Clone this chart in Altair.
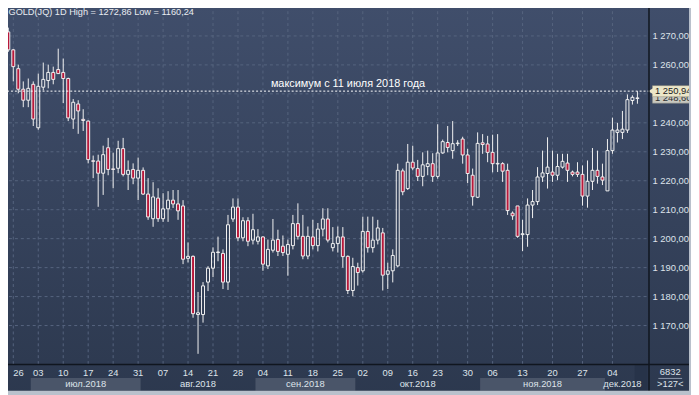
import altair as alt
import pandas as pd

# ---- candle data (daily, index based) ----
opens = [1271.4, 1265.2, 1258.7, 1251.6, 1247.8, 1253.3, 1238.3, 1252.3, 1254.6, 1257.4,
         1258.4, 1257.4, 1255.3, 1241.3, 1246.5, 1241.2, 1240.6, 1226.9, 1226.8, 1222.6,
         1231.4, 1224.1, 1224.3, 1231.1, 1222.2, 1223.9, 1220.9, 1223.6, 1215.4, 1206.9,
         1214.0, 1206.9, 1210.3, 1213.3, 1212.0, 1211.3, 1193.2, 1193.9, 1173.8, 1173.8,
         1185.0, 1189.8, 1195.2, 1194.9, 1185.0, 1206.8, 1210.9, 1200.3, 1206.2, 1199.5,
         1199.1, 1200.6, 1190.6, 1196.0, 1199.7, 1197.4, 1194.6, 1197.6, 1205.2, 1200.8,
         1194.0, 1200.6, 1197.6, 1203.3, 1206.8, 1196.9, 1198.3, 1200.6, 1193.9, 1182.1,
         1190.0, 1188.9, 1202.5, 1196.9, 1199.5, 1202.0, 1187.7, 1188.9, 1190.6, 1223.4,
         1217.3, 1226.4, 1224.2, 1221.5, 1224.9, 1225.9, 1221.5, 1229.6, 1233.2, 1230.4,
         1232.8, 1234.4, 1228.9, 1221.9, 1214.3, 1233.1, 1232.7, 1229.8, 1225.8, 1225.9,
         1223.6, 1208.8, 1211.3, 1201.4, 1201.4, 1211.6, 1212.8, 1221.3, 1222.5, 1223.0,
         1221.9, 1224.7, 1226.1, 1223.0, 1223.0, 1222.2, 1214.7, 1219.8, 1223.6, 1221.3,
         1216.5, 1230.4, 1236.7, 1236.7, 1237.5, 1247.7, 1248.4]
highs = [1272.86, 1265.5, 1260.1, 1254.3, 1255.3, 1254.3, 1257.0, 1260.8, 1260.1, 1259.4,
         1265.6, 1262.2, 1255.6, 1248.2, 1247.8, 1244.7, 1240.8, 1228.7, 1229.0, 1232.1,
         1234.8, 1229.7, 1233.8, 1234.8, 1227.0, 1226.0, 1228.0, 1224.6, 1220.9, 1219.5,
         1217.4, 1215.7, 1216.4, 1216.8, 1216.8, 1213.3, 1198.7, 1194.2, 1181.6, 1185.0,
         1190.5, 1197.0, 1200.7, 1196.3, 1208.2, 1213.9, 1213.9, 1207.4, 1207.4, 1208.6,
         1203.3, 1200.8, 1199.7, 1206.8, 1203.1, 1201.1, 1199.7, 1208.2, 1212.2, 1208.2,
         1204.2, 1206.5, 1205.4, 1210.5, 1210.5, 1204.0, 1204.2, 1204.0, 1194.2, 1193.4,
         1191.7, 1207.6, 1207.6, 1207.6, 1206.5, 1203.7, 1191.7, 1196.3, 1225.9, 1224.2,
         1232.7, 1232.1, 1227.2, 1229.8, 1230.4, 1229.5, 1239.5, 1234.2, 1238.9, 1240.6,
         1234.0, 1235.2, 1231.0, 1224.2, 1236.7, 1236.1, 1235.5, 1235.9, 1236.1, 1226.4,
         1225.9, 1209.4, 1211.3, 1206.5, 1213.9, 1216.8, 1224.7, 1230.4, 1235.0, 1230.4,
         1229.3, 1229.3, 1229.3, 1223.5, 1226.4, 1225.3, 1227.0, 1231.3, 1230.4, 1225.9,
         1234.4, 1241.8, 1240.0, 1244.1, 1249.8, 1249.5, 1250.94]
lows = [1264.5, 1254.3, 1250.2, 1245.4, 1245.4, 1238.9, 1237.6, 1251.2, 1251.9, 1253.3,
        1257.0, 1246.8, 1240.6, 1237.9, 1236.2, 1237.2, 1226.0, 1220.9, 1211.0, 1215.1,
        1221.9, 1217.4, 1222.6, 1221.5, 1216.8, 1218.8, 1213.3, 1215.1, 1206.5, 1204.1,
        1205.8, 1205.8, 1205.8, 1210.6, 1206.5, 1191.2, 1191.8, 1172.7, 1160.24, 1171.0,
        1181.9, 1186.7, 1192.2, 1182.6, 1182.3, 1205.8, 1199.1, 1199.1, 1197.4, 1198.0,
        1198.0, 1188.9, 1189.5, 1195.2, 1194.0, 1194.0, 1187.2, 1196.3, 1199.7, 1192.9,
        1192.9, 1196.3, 1195.6, 1200.8, 1198.7, 1195.6, 1195.2, 1190.0, 1180.9, 1180.1,
        1183.8, 1188.3, 1195.2, 1195.2, 1198.0, 1182.1, 1182.6, 1184.9, 1190.1, 1215.0,
        1216.8, 1223.6, 1219.9, 1218.1, 1221.9, 1219.6, 1220.7, 1229.3, 1229.8, 1227.6,
        1232.0, 1225.9, 1219.2, 1211.4, 1214.0, 1229.3, 1226.4, 1222.9, 1223.0, 1219.6,
        1208.2, 1206.5, 1200.3, 1195.7, 1197.2, 1207.1, 1211.6, 1219.6, 1217.3, 1219.6,
        1220.2, 1224.2, 1219.6, 1221.5, 1221.3, 1211.4, 1210.7, 1216.8, 1219.0, 1218.5,
        1216.5, 1229.3, 1233.2, 1234.4, 1236.5, 1246.3, 1246.6]
closes = [1265.2, 1259.4, 1251.6, 1247.8, 1251.9, 1241.3, 1252.6, 1255.0, 1257.4, 1255.0,
          1257.0, 1255.3, 1241.7, 1247.1, 1244.1, 1240.8, 1227.3, 1226.7, 1222.6, 1229.0,
          1223.9, 1223.9, 1231.1, 1222.2, 1223.6, 1220.9, 1223.6, 1215.4, 1207.5, 1214.4,
          1206.9, 1210.3, 1213.3, 1212.0, 1209.6, 1192.9, 1193.9, 1174.1, 1174.4, 1183.7,
          1189.8, 1195.3, 1195.4, 1185.0, 1204.8, 1210.9, 1200.3, 1206.2, 1199.1, 1203.1,
          1200.6, 1191.2, 1196.3, 1199.5, 1195.6, 1195.2, 1198.0, 1205.2, 1200.8, 1194.0,
          1200.8, 1197.6, 1203.3, 1206.8, 1199.5, 1198.3, 1200.6, 1193.8, 1182.1, 1190.4,
          1188.3, 1202.5, 1196.9, 1199.5, 1203.7, 1187.4, 1188.9, 1194.2, 1223.6, 1216.2,
          1226.4, 1224.4, 1221.5, 1225.5, 1225.9, 1221.5, 1229.6, 1233.5, 1231.5, 1232.8,
          1233.0, 1228.9, 1222.5, 1214.5, 1232.9, 1232.5, 1229.8, 1225.9, 1226.0, 1223.3,
          1209.7, 1207.9, 1200.8, 1201.7, 1211.6, 1212.8, 1221.3, 1222.7, 1224.7, 1221.9,
          1224.9, 1226.7, 1223.6, 1222.2, 1222.2, 1214.7, 1219.8, 1223.6, 1221.5, 1220.2,
          1230.4, 1237.5, 1237.5, 1237.8, 1248.0, 1248.8, 1248.6]

# ---- axis labels ----
tick_idx = [1, 6, 11, 16, 21, 26, 31, 36, 41, 46, 51, 56, 61, 66, 71, 76, 81, 86,
            92, 97, 103, 109, 115, 121]
tick_lbl = ["26", "03", "10", "17", "24", "31", "07", "14", "21", "28", "04", "11",
            "18", "25", "02", "09", "16", "23", "30", "06", "13", "20", "27", "04"]
month_lbl = ["июл.2018", "авг.2018", "сен.2018", "окт.2018", "ноя.2018", "дек.2018"]
month_start = [4.5, 26.5, 49.5, 69.5, 94.5, 119.5]
month_end = [26.5, 49.5, 69.5, 94.5, 119.5, 126.5]
month_shaded = [True, False, True, False, True, False]
y_ticks = [1170, 1180, 1190, 1200, 1210, 1220, 1230, 1240, 1250, 1260, 1270]
y_hidden_label = 1250  # covered by the price tag in the original

title_text = "GOLD(JQ) 1D High = 1272,86 Low = 1160,24"
note_text = "максимум с 11 июля 2018 года"
max_level = [1250.94]
last_close = [1248.6]
tag_texts = ["1 250,94", "1 248,60"]
box_texts = ["6832", ">127<"]

# ---- styling ----
FONT = "Liberation Sans"
TXT = "#dde3ea"
GRID = "#56647e"
RED = "#b8193b"
W, H = 653, 363


def ru_fmt(v):
    return f"{v:,.2f}".replace(",", " ").replace(".", ",")


n = len(opens)
df = pd.DataFrame({"i": list(range(n)), "o": opens, "h": highs, "l": lows, "c": closes})
df["top"] = df[["o", "c"]].max(axis=1)
df["bot"] = df[["o", "c"]].min(axis=1)
df["up"] = df["c"] >= df["o"]

xs = alt.Scale(domain=[-0.06, 127.23], nice=False, zero=False)
ys = alt.Scale(domain=[1156.69, 1280.58], nice=False, zero=False)

one = pd.DataFrame({"k": [0]})

grad = alt.LinearGradient(
    gradient="linear",
    stops=[alt.GradientStop(offset=0, color="#404e6b"),
           alt.GradientStop(offset=1, color="#2c384e")],
    x1=0, x2=0, y1=0, y2=1)

bg = alt.Chart(one).mark_rect(fill=grad).encode(
    x=alt.value(0), x2=alt.value(700), y=alt.value(0), y2=alt.value(400))

ydf = pd.DataFrame({"v": y_ticks})
ydf["t"] = [ru_fmt(v) for v in y_ticks]
ygrid = alt.Chart(ydf).mark_rule(
    color=GRID, strokeDash=[3, 3], strokeWidth=1).encode(
    y=alt.Y("v:Q", scale=ys, axis=None), x=alt.value(0), x2=alt.value(W))
ylab = alt.Chart(ydf[ydf["v"] != y_hidden_label]).mark_text(
    font=FONT, fontSize=9.5, color=TXT, align="left", baseline="middle").encode(
    y=alt.Y("v:Q", scale=ys, axis=None), x=alt.value(657), text="t:N")

tdf = pd.DataFrame({"i": tick_idx, "lbl": tick_lbl})
xgrid = alt.Chart(tdf).mark_rule(
    color=GRID, strokeDash=[3, 3], strokeWidth=1).encode(
    x=alt.X("i:Q", scale=xs, axis=None), y=alt.value(0), y2=alt.value(H))
xlab_first = alt.Chart(tdf.iloc[:1]).mark_text(
    font=FONT, fontSize=9.5, color=TXT, align="left", baseline="middle").encode(
    x=alt.X("i:Q", scale=xs, axis=None), y=alt.value(372), text="lbl:N")
xlab = alt.Chart(tdf.iloc[1:]).mark_text(
    font=FONT, fontSize=9.5, color=TXT, align="center", baseline="middle").encode(
    x=alt.X("i:Q", scale=xs, axis=None), y=alt.value(372), text="lbl:N")

mdf = pd.DataFrame({"lbl": month_lbl, "s": month_start, "e": month_end, "sh": month_shaded})
mdf["m"] = (mdf["s"] + mdf["e"]) / 2
mband = alt.Chart(mdf[mdf["sh"]]).mark_rect(fill="#4a5569").encode(
    x=alt.X("s:Q", scale=xs, axis=None), x2="e:Q",
    y=alt.value(377), y2=alt.value(390))
mtext = alt.Chart(mdf).mark_text(font=FONT, fontSize=9.5, color=TXT, baseline="middle").encode(
    x=alt.X("m:Q", scale=xs, axis=None), y=alt.value(383), text="lbl:N")

scroll = alt.Chart(one).mark_rect(fill="#273349").encode(
    x=alt.value(639), x2=alt.value(652), y=alt.value(364), y2=alt.value(390))

wick_up = alt.Chart(df).mark_rule(color="#f2f2f2", strokeWidth=1).encode(
    x=alt.X("i:Q", scale=xs, axis=None),
    y=alt.Y("h:Q", scale=ys, axis=None), y2="top:Q")
wick_dn = alt.Chart(df).mark_rule(color="#f2f2f2", strokeWidth=1).encode(
    x=alt.X("i:Q", scale=xs, axis=None),
    y=alt.Y("bot:Q", scale=ys, axis=None), y2="l:Q")

body_up = alt.Chart(df[df["up"]]).mark_bar(
    size=3, fill="#000000", fillOpacity=0, stroke="#f2f2f2", strokeWidth=1).encode(
    x=alt.X("i:Q", scale=xs, axis=None),
    y=alt.Y("o:Q", scale=ys, axis=None), y2="c:Q")
body_dn = alt.Chart(df[~df["up"]]).mark_bar(
    size=3, fill=RED, stroke="#f2f2f2", strokeWidth=1).encode(
    x=alt.X("i:Q", scale=xs, axis=None),
    y=alt.Y("o:Q", scale=ys, axis=None), y2="c:Q")

lvl = pd.DataFrame({"v": max_level, "lc": last_close, "t1": [tag_texts[0]], "t2": [tag_texts[1]]})
dash = alt.Chart(lvl).mark_rule(color="#ffffff", strokeDash=[2, 2], strokeWidth=1).encode(
    y=alt.Y("v:Q", scale=ys, axis=None), x=alt.value(0), x2=alt.value(655))
note = alt.Chart(lvl).mark_text(font=FONT, fontSize=11, color="#ffffff",
                                baseline="alphabetic", dy=-4).encode(
    y=alt.Y("v:Q", scale=ys, axis=None), x=alt.value(349), text=alt.value(note_text))

# price tags on the right axis
tag2 = alt.Chart(lvl).transform_calculate(a="datum.lc + 1.8", b="datum.lc - 1.8").mark_rect(
    fill="#c9c9c0", stroke="#8a8a84", strokeWidth=0.5).encode(
    y=alt.Y("a:Q", scale=ys, axis=None), y2="b:Q", x=alt.value(657), x2=alt.value(696))
tag2t = alt.Chart(lvl).mark_text(font=FONT, fontSize=9.5, color="#303030", align="left",
                                 baseline="middle").encode(
    y=alt.Y("lc:Q", scale=ys, axis=None), x=alt.value(659.5), text="t2:N")
tag1 = alt.Chart(lvl).transform_calculate(a="datum.v + 1.9", b="datum.v - 1.9").mark_rect(
    fill="#ece6c8", stroke="#9a9480", strokeWidth=0.5).encode(
    y=alt.Y("a:Q", scale=ys, axis=None), y2="b:Q", x=alt.value(657), x2=alt.value(696))
tag1a = alt.Chart(lvl).mark_point(shape="triangle-left", filled=True, fill="#ece6c8",
                                  opacity=1, size=45, strokeWidth=0).encode(
    y=alt.Y("v:Q", scale=ys, axis=None), x=alt.value(655.5))
tag1t = alt.Chart(lvl).mark_text(font=FONT, fontSize=9.5, color="#202020", align="left",
                                 baseline="middle").encode(
    y=alt.Y("v:Q", scale=ys, axis=None), x=alt.value(659.5), text="t1:N")

# frame / separators
vsep = alt.Chart(one).mark_rule(color="#10161f", strokeWidth=1.5).encode(
    x=alt.value(653.5), y=alt.value(0), y2=alt.value(392))
hsep = alt.Chart(one).mark_rule(color="#10161f", strokeWidth=1.5).encode(
    y=alt.value(363.5), x=alt.value(0), x2=alt.value(696))
fb = alt.Chart(one).mark_rect(fill="#b9c1cc").encode(
    x=alt.value(0), x2=alt.value(700), y=alt.value(390), y2=alt.value(400))
fr = alt.Chart(one).mark_rect(fill="#b9c1cc").encode(
    x=alt.value(694), x2=alt.value(700), y=alt.value(0), y2=alt.value(400))

title = alt.Chart(one).mark_text(font=FONT, fontSize=9.3, color="#e8ecf1", align="left",
                                 baseline="middle").encode(
    x=alt.value(5.5), y=alt.value(6.5), text=alt.value(title_text))

bdf = pd.DataFrame({"t": box_texts, "yy": [371, 383.5]})
boxt = alt.Chart(bdf).mark_text(font=FONT, fontSize=9.5, color=TXT, baseline="middle").encode(
    x=alt.value(675), y=alt.Y("yy:Q", scale=None, axis=None), text="t:N")
boxl = alt.Chart(one).mark_rule(color="#8d99ab", strokeWidth=1).encode(
    x=alt.value(663), x2=alt.value(687), y=alt.value(377.5))

chart = alt.layer(
    bg, ygrid, xgrid, mband, scroll, mtext, xlab_first, xlab,
    wick_up, wick_dn, body_up, body_dn,
    dash, note, ylab, tag2, tag2t, tag1, tag1a, tag1t,
    vsep, hsep, fb, fr, title, boxt, boxl
).properties(
    width=W, height=H,
    autosize=alt.AutoSizeParams(type="none"),
    padding={"left": -5, "top": -5, "right": 43, "bottom": 29},
    background="#2f3b52"
).configure_view(stroke=None)

chart.save("out.html", embed_options={"renderer": "svg", "actions": False})
